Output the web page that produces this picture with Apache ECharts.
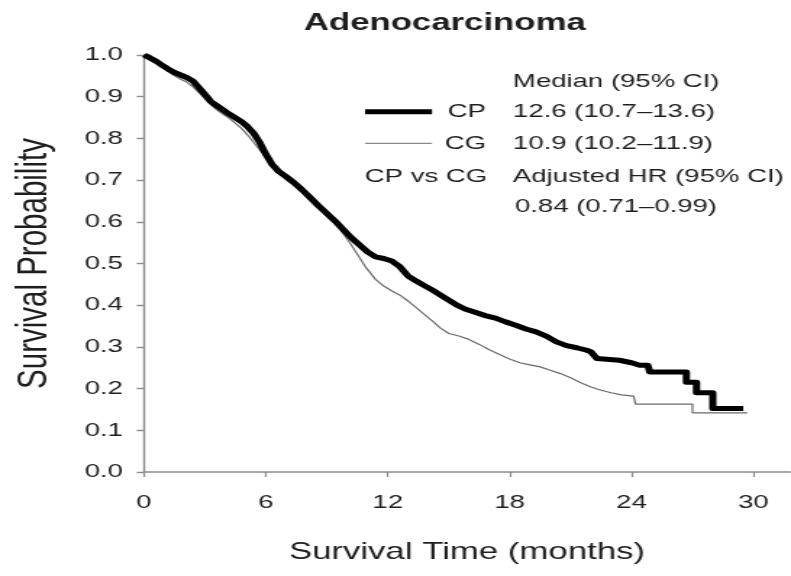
<!DOCTYPE html>
<html>
<head>
<meta charset="utf-8">
<script src="https://cdn.jsdelivr.net/npm/echarts@6/dist/echarts.min.js"></script>
<style>
  html, body { margin: 0; padding: 0; background: #fff; overflow: hidden; }
  /* The figure is laid out on a narrower canvas and widened to fill the window,
     which gives the text its broad, horizontally stretched look. */
  #chart {
    width: 546px;
    height: 576px;
    transform: scaleX(1.4487);
    transform-origin: 0 0;
  }
</style>
</head>
<body>
<div id="chart"></div>
<script>
// Kaplan-Meier curves as corner points (months, survival probability).
// Early on the steps are tiny, so the curve is traced through them; in the
// tail each step is listed with both of its corners.
const cpTime = [0, 0.3, 0.6, 0.9, 1.2, 1.5, 1.8, 2.1, 2.4, 2.7, 3.0, 3.3, 3.6, 3.9, 4.2, 4.5, 4.8, 5.1, 5.4, 5.7,
  6.0, 6.3, 6.6, 7.0, 7.4, 7.8, 8.2, 8.6, 9.0, 9.4, 9.8, 10.2, 10.6, 11.0, 11.4, 11.8, 12.2, 12.6, 13.0, 13.4,
  13.8, 14.2, 14.6, 15.0, 15.4, 15.8, 16.3, 16.8, 17.3, 17.8, 18.3, 18.8, 19.3, 19.8, 20.3, 20.8, 21.3, 21.8,
  22.0, 22.3, 23.4, 24.0, 24.4, 24.8, 24.9, 26.7, 26.7, 27.2, 27.2, 28.0, 28.0, 29.5];
const cpSurv = [1.000, 0.993, 0.985, 0.975, 0.966, 0.958, 0.952, 0.946, 0.938, 0.922, 0.905, 0.888, 0.878, 0.868,
  0.858, 0.849, 0.840, 0.828, 0.812, 0.790, 0.762, 0.738, 0.722, 0.708, 0.693, 0.676, 0.657, 0.638, 0.620,
  0.602, 0.582, 0.562, 0.545, 0.528, 0.516, 0.512, 0.506, 0.492, 0.470, 0.458, 0.447, 0.436, 0.424, 0.412,
  0.400, 0.391, 0.383, 0.375, 0.369, 0.360, 0.352, 0.343, 0.336, 0.326, 0.312, 0.303, 0.298, 0.292,
  0.288, 0.272, 0.268, 0.262, 0.256, 0.256, 0.240, 0.240, 0.215, 0.215, 0.190, 0.190, 0.152, 0.152];

const cgTime = [0, 0.3, 0.6, 0.9, 1.2, 1.5, 1.8, 2.1, 2.4, 2.7, 3.0, 3.3, 3.6, 3.9, 4.2, 4.5, 4.8, 5.1, 5.4, 5.7,
  6.0, 6.3, 6.6, 7.0, 7.4, 7.8, 8.2, 8.6, 9.0, 9.4, 9.8, 10.2, 10.6, 10.9, 11.4, 11.8, 12.2, 12.6, 13.0, 13.4,
  13.8, 14.2, 14.6, 15.0, 15.5, 16.0, 16.5, 17.0, 17.5, 18.0, 18.5, 19.0, 19.5, 20.0, 20.5, 21.0, 21.5, 22.0,
  22.5, 23.0, 23.5, 24.1, 24.2, 27.0, 27.0, 29.7];
const cgSurv = [1.000, 0.992, 0.982, 0.970, 0.960, 0.950, 0.942, 0.935, 0.924, 0.910, 0.895, 0.880, 0.868, 0.858,
  0.848, 0.836, 0.824, 0.808, 0.790, 0.772, 0.755, 0.738, 0.722, 0.706, 0.690, 0.673, 0.654, 0.636, 0.618,
  0.598, 0.572, 0.545, 0.515, 0.492, 0.462, 0.446, 0.434, 0.424, 0.410, 0.394, 0.378, 0.362, 0.345, 0.332,
  0.326, 0.318, 0.306, 0.293, 0.282, 0.271, 0.262, 0.257, 0.252, 0.244, 0.236, 0.226, 0.214, 0.204, 0.196,
  0.190, 0.185, 0.182, 0.163, 0.163, 0.142, 0.142];

// Axis ticks
const xTicks = [0, 6, 12, 18, 24, 30];
const yTicks = [0, 0.1, 0.2, 0.3, 0.4, 0.5, 0.6, 0.7, 0.8, 0.9, 1.0];

// Summary statistics shown in the key
const groups = ['CP', 'CG'];
const medians = [12.6, 10.9];
const medianLow = [10.7, 10.2];
const medianHigh = [13.6, 11.9];
const hazardRatio = [0.84, 0.71, 0.99];

const FONT = '"Liberation Sans", Arial, Helvetica, sans-serif';
const INK = '#1e1e1e';
const AXIS = '#8a8a8a';

const zip = (t, s) => t.map((v, i) => [v, s[i]]);
const ci = (m, lo, hi) => `${m.toFixed(1)} (${lo.toFixed(1)}\u2013${hi.toFixed(1)})`;

const chart = echarts.init(document.getElementById('chart'), null, { renderer: 'canvas' });

const txt = (x, y, text, align) => ({
  type: 'text',
  x: x, y: y,
  silent: true,
  style: {
    text: text,
    fill: INK,
    font: `19px ${FONT}`,
    textAlign: align, align: align,
    textVerticalAlign: 'middle', verticalAlign: 'middle'
  }
});

chart.setOption({
  animation: false,
  backgroundColor: '#fff',
  title: {
    text: 'Adenocarcinoma',
    left: 307,
    top: 11,
    padding: 0,
    textAlign: 'center',
    textStyle: { fontFamily: FONT, fontWeight: 'bold', fontSize: 24, color: INK }
  },
  grid: {
    left: 99.4, right: 0.7, top: 55, bottom: 104,
    containLabel: false,
    outerBoundsMode: 'none'
  },
  xAxis: {
    type: 'value',
    min: 0, max: 31.8, interval: 6,
    name: 'Survival Time (months)',
    nameLocation: 'middle',
    nameGap: 68,
    nameTextStyle: { fontFamily: FONT, fontSize: 24, color: INK },
    axisLine: { show: true, onZero: false, lineStyle: { color: AXIS, width: 1.6 } },
    axisTick: { show: true, inside: false, length: 5, customValues: xTicks, lineStyle: { color: AXIS, width: 1.2 } },
    axisLabel: {
      customValues: xTicks,
      margin: 21,
      fontFamily: FONT, fontSize: 19, color: INK,
      formatter: v => (xTicks.includes(v) ? String(v) : '')
    },
    splitLine: { show: false }
  },
  yAxis: {
    type: 'value',
    min: 0, max: 1, interval: 0.1,
    name: 'Survival Probability',
    nameLocation: 'middle',
    nameGap: 61,
    nameTextStyle: { fontFamily: FONT, fontSize: 29.5, color: INK },
    axisLine: { show: true, lineStyle: { color: AXIS, width: 1.4 } },
    axisTick: { show: true, inside: false, length: 5, customValues: yTicks, lineStyle: { color: AXIS, width: 1.4 } },
    axisLabel: {
      customValues: yTicks,
      margin: 14.5,
      fontFamily: FONT, fontSize: 19, color: INK,
      formatter: v => v.toFixed(1)
    },
    splitLine: { show: false }
  },
  series: [
    {
      name: groups[1],
      type: 'line',
      showSymbol: false,
      symbol: 'none',
      data: zip(cgTime, cgSurv),
      lineStyle: { color: '#6a6a6a', width: 1.2 },
      z: 2
    },
    {
      name: groups[0],
      type: 'line',
      showSymbol: false,
      symbol: 'none',
      data: zip(cpTime, cpSurv),
      lineStyle: { color: '#000', width: 5, join: 'round', cap: 'butt' },
      z: 3
    }
  ],
  graphic: [
    txt(354.1, 81.7, 'Median (95% CI)', 'left'),
    { type: 'line', silent: true, shape: { x1: 252, y1: 111.7, x2: 298.2, y2: 111.7 },
      style: { stroke: '#000', lineWidth: 5 } },
    txt(335.5, 111.7, groups[0], 'right'),
    txt(354.1, 111.7, ci(medians[0], medianLow[0], medianHigh[0]), 'left'),
    { type: 'line', silent: true, shape: { x1: 252, y1: 143.3, x2: 298.2, y2: 143.3 },
      style: { stroke: '#8a8a8a', lineWidth: 1.3 } },
    txt(335.5, 143.3, groups[1], 'right'),
    txt(354.1, 143.3, ci(medians[1], medianLow[1], medianHigh[1]), 'left'),
    txt(336.2, 176.7, `${groups[0]} vs ${groups[1]}`, 'right'),
    txt(354.1, 176.7, 'Adjusted HR (95% CI)', 'left'),
    txt(355.5, 206.7, `${hazardRatio[0].toFixed(2)} (${hazardRatio[1].toFixed(2)}\u2013${hazardRatio[2].toFixed(2)})`, 'left')
  ]
});
</script>
</body>
</html>
